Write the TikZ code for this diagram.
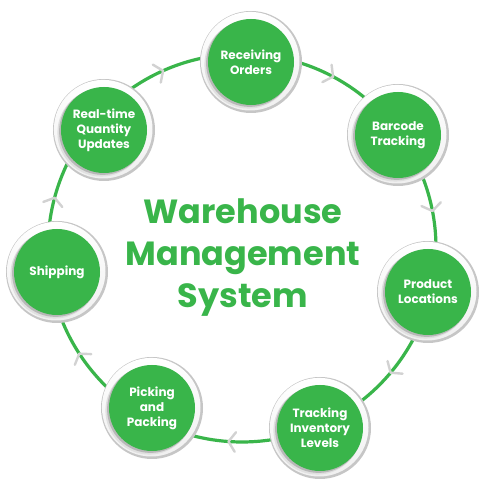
\documentclass[tikz,border=0pt]{standalone}
\usepackage{fontspec}
\setmainfont{Poppins}
\definecolor{wgreen}{HTML}{39B54A}
\definecolor{chevgray}{HTML}{D2D2D2}
\tikzset{
  ring/.style={draw=wgreen, line width=3.2pt},
  chev/.style={draw=chevgray, line width=2.4pt, line cap=round, line join=round},
  gnode/.style={circle, fill=wgreen, minimum size=86pt, inner sep=0pt, text=white,
    font=\bfseries\fontsize{12}{15}\selectfont, align=center},
  title/.style={text=wgreen, font=\bfseries\fontsize{33.5}{42}\selectfont, align=center},
  halo/.pic={
    \fill[gray!45] (0,0) circle[radius=51pt];
    \shade[top color=white, bottom color=gray!12] (-0.8,0.8) circle[radius=49.3pt];
    \fill[black!12] (-2.6,-2.6) circle[radius=44pt];
    \fill[black!28] (-1.4,-1.4) circle[radius=43.5pt];
  }
}
\begin{document}
\begin{tikzpicture}[x=1pt,y=1pt]
\useasboundingbox[fill=white] (0,0) rectangle (485,481);
\coordinate (ctr) at (242,233);
\draw[ring] (ctr) circle[radius=194pt];
\foreach \a in {114,62,11,-40,-94,-147,165}{
  \begin{scope}[shift={(ctr)}, rotate=\a]
    \draw[chev] (184.2,6.9) -- (194,0) -- (203.8,6.9);
  \end{scope}
}
\pic at (251,419) {halo};
\node[gnode] (recv) at (251,419) {Receiving\\Orders};
\pic at (398,346) {halo};
\node[gnode] (barc) at (398,346) {Barcode\\Tracking};
\pic at (428,189) {halo};
\node[gnode] (prod) at (428,189) {Product\\Locations};
\pic at (320,53) {halo};
\node[gnode] (trck) at (320,53) {Tracking\\Inventory\\Levels};
\pic at (152,73) {halo};
\node[gnode] (pick) at (152,73) {Picking\\and\\Packing};
\pic at (57,209) {halo};
\node[gnode] (ship) at (57,209) {Shipping};
\pic at (104,351) {halo};
\node[gnode] (real) at (104,351) {Real-time\\Quantity\\Updates};
\node[title] (wms) at (243,223) {Warehouse\\Management\\System};
\end{tikzpicture}
\end{document}
